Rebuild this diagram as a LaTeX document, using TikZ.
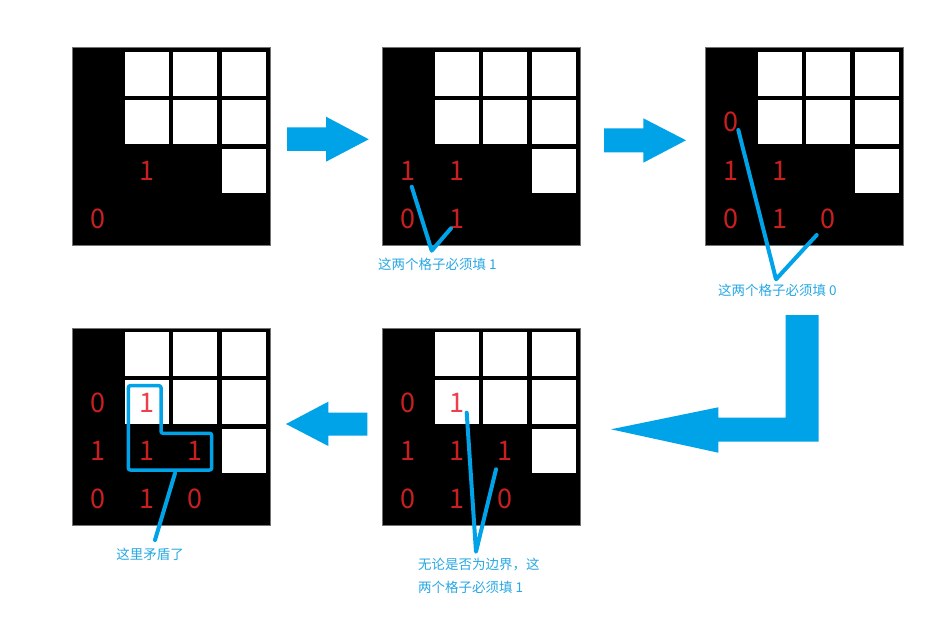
\documentclass[tikz,border=0pt]{standalone}
\usepackage{fontspec}
\newfontfamily\cjk{Noto Sans CJK SC}
\definecolor{pblue}{RGB}{0,162,232}
\definecolor{lblue}{RGB}{40,168,228}
\definecolor{dred}{RGB}{200,32,32}
\definecolor{lred}{RGB}{236,64,76}
\tikzset{
  num/.style={text=dred, font=\cjk\fontsize{27}{27}\selectfont, inner sep=0pt},
  numw/.style={num, text=lred},
  lbl/.style={text=lblue, font=\cjk\fontsize{13.5}{14}\selectfont, inner sep=0pt},
  pline/.style={draw=pblue, line width=4pt, line cap=round, line join=round},
  parrow/.style={fill=pblue, draw=none},
  gridbox/.style={fill=black, draw=black!55, line width=0.6pt, minimum size=197.5pt, inner sep=0pt, anchor=north west},
}
\newcommand{\mygrid}[3]{%
  \node[gridbox] (#1) at (#2,#3) {};
  \foreach \r/\c in {0/1,0/2,0/3,1/1,1/2,1/3,2/3}{
    \fill[white] ({#2+4+48.5*\c},{#3+4.5+48.4*\r}) rectangle ++(44,44);
  }%
}
\newcommand{\putnum}[7]{%
  \node[#7] (#1) at ({#2+26+48.5*#5},{#3+26.5+48.4*#4}) {#6};%
}
\begin{document}
\begin{tikzpicture}[x=1pt,y=-1pt]
\useasboundingbox[fill=white] (0,0) rectangle (947,628);

% grids
\mygrid{G1}{72}{47.3}
\mygrid{G2}{382.3}{47.3}
\mygrid{G3}{705}{47.3}
\mygrid{G4}{72}{327.5}
\mygrid{G5}{382.3}{327.5}

% grid 1 numbers
\putnum{g1a}{72}{47.3}{2}{1}{1}{num}
\putnum{g1b}{72}{47.3}{3}{0}{0}{num}

% grid 2 numbers
\putnum{g2a}{382.3}{47.3}{2}{0}{1}{num}
\putnum{g2b}{382.3}{47.3}{2}{1}{1}{num}
\putnum{g2c}{382.3}{47.3}{3}{0}{0}{num}
\putnum{g2d}{382.3}{47.3}{3}{1}{1}{num}

% grid 3 numbers
\putnum{g3a}{705}{47.3}{1}{0}{0}{num}
\putnum{g3b}{705}{47.3}{2}{0}{1}{num}
\putnum{g3c}{705}{47.3}{2}{1}{1}{num}
\putnum{g3d}{705}{47.3}{3}{0}{0}{num}
\putnum{g3e}{705}{47.3}{3}{1}{1}{num}
\putnum{g3f}{705}{47.3}{3}{2}{0}{num}

% grid 4 numbers
\putnum{g4a}{72}{327.5}{1}{0}{0}{num}
\putnum{g4b}{72}{327.5}{1}{1}{1}{numw}
\putnum{g4c}{72}{327.5}{2}{0}{1}{num}
\putnum{g4d}{72}{327.5}{2}{1}{1}{num}
\putnum{g4e}{72}{327.5}{2}{2}{1}{num}
\putnum{g4f}{72}{327.5}{3}{0}{0}{num}
\putnum{g4g}{72}{327.5}{3}{1}{1}{num}
\putnum{g4h}{72}{327.5}{3}{2}{0}{num}

% grid 5 numbers
\putnum{g5a}{382.3}{327.5}{1}{0}{0}{num}
\putnum{g5b}{382.3}{327.5}{1}{1}{1}{numw}
\putnum{g5c}{382.3}{327.5}{2}{0}{1}{num}
\putnum{g5d}{382.3}{327.5}{2}{1}{1}{num}
\putnum{g5e}{382.3}{327.5}{2}{2}{1}{num}
\putnum{g5f}{382.3}{327.5}{3}{0}{0}{num}
\putnum{g5g}{382.3}{327.5}{3}{1}{1}{num}
\putnum{g5h}{382.3}{327.5}{3}{2}{0}{num}

% big arrows
\fill[parrow] (287,127.3) -- (326,127.3) -- (326,116.7) -- (368.7,139.3) -- (326,161.7) -- (326,151) -- (287,151) -- cycle;
\fill[parrow] (604,128.3) -- (643.3,128.3) -- (643.3,118.3) -- (686,140.3) -- (643.3,162.7) -- (643.3,152.3) -- (604,152.3) -- cycle;
\fill[parrow] (367.3,412.7) -- (328.3,412.7) -- (328.3,401.7) -- (286,424) -- (328.3,446) -- (328.3,435.7) -- (367.3,435.7) -- cycle;
\fill[parrow] (785.7,315) -- (818.7,315) -- (818.7,441.7) -- (718.3,441.7) -- (718.3,452.7) -- (611,429.3) -- (718.3,407.3) -- (718.3,417.7) -- (785.7,417.7) -- cycle;

% labels
\node[lbl, anchor=west] (t2) at (378,264) {这两个格子必须填 1};
\node[lbl, anchor=west] (t3) at (718,290) {这两个格子必须填 0};
\node[lbl] (t4) at (150,554) {这里矛盾了};
\node[lbl, anchor=west] (t5a) at (418,565) {无论是否为边界，这};
\node[lbl, anchor=west] (t5b) at (418,587) {两个格子必须填 1};

% connectors grid 2
\coordinate (c2s) at (411.7,186.7);
\coordinate (c2v) at (431.7,250.7);
\coordinate (c2e) at (451,228.3);
\draw[pline] (c2s) -- (c2v) -- (c2e);

% connectors grid 3
\coordinate (c3s) at (738.3,130);
\coordinate (c3v) at (776,279.3);
\coordinate (c3e) at (816.7,235);
\draw[pline] (c3s) -- (c3v) -- (c3e);

% grid 4 L outline and pointer
\draw[pline, line width=3.5pt, rounded corners=2pt] (128.3,385.7) -- (161,385.7) -- (161,433.3) -- (211.7,433.3) -- (211.7,470) -- (128.3,470) -- cycle;
\coordinate (c4s) at (175,473.3);
\coordinate (c4e) at (155,540);
\draw[pline] (c4s) -- (c4e);

% connectors grid 5
\coordinate (c5s) at (466.7,412.7);
\coordinate (c5v) at (476,551.7);
\coordinate (c5e) at (496,469.3);
\draw[pline] (c5s) -- (c5v) -- (c5e);
\end{tikzpicture}
\end{document}
